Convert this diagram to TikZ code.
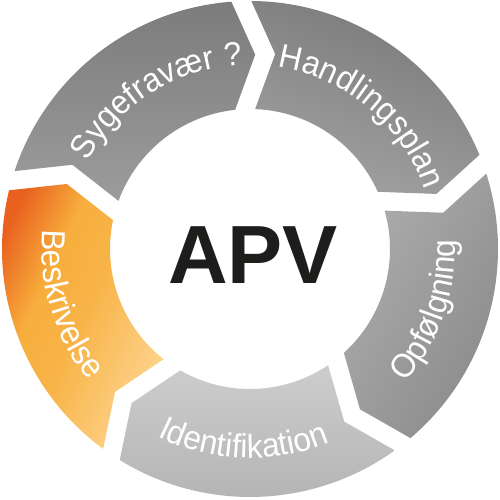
\documentclass[tikz,border=0pt]{standalone}
\usepackage{fontspec}
\usetikzlibrary{decorations.text}
\newfontfamily\labelfam[FakeStretch=0.95]{Liberation Sans}
\newfontfamily\apvfam{Liberation Sans}
\newcommand\labelfont{\labelfam\fontsize{19}{19}\selectfont}
\definecolor{apvblack}{HTML}{1D1D1B}
\definecolor{sygtop}{HTML}{7C7C7C}
\definecolor{sygbot}{HTML}{9C9C9C}
\definecolor{handtop}{HTML}{797979}
\definecolor{handbot}{HTML}{A2A2A2}
\definecolor{opftop}{HTML}{ACACAC}
\definecolor{opfbot}{HTML}{898989}
\definecolor{idtop}{HTML}{CDCDCD}
\definecolor{idbot}{HTML}{B2B2B2}
\definecolor{besktop}{HTML}{E9611F}
\definecolor{beskmid}{HTML}{F7AE3C}
\definecolor{beskbot}{HTML}{FDD48E}
\pgfdeclarehorizontalshading{beskshade}{100bp}{color(0bp)=(besktop); color(26bp)=(besktop); color(40bp)=(beskmid); color(52bp)=(beskmid!85!beskbot); color(75bp)=(beskbot); color(100bp)=(beskbot)}
\begin{document}
\begin{tikzpicture}[scale=0.2]
\tikzstyle{ringlabel}=[decorate, decoration={text along path, text align=center, text color=white}]
\fill [white] (-25,-25.1) rectangle (25,24.9);
\useasboundingbox (-25,-25.1) rectangle (25,24.9);
\shade [top color=sygtop, bottom color=sygbot] (161.69:24.8) arc (161.69:94.31:24.8) -- (88.46:19.44) -- (96.10:14) arc (96.10:159.90:14) -- (154.63:19.66) -- cycle;
\shade [top color=handtop, bottom color=handbot, shading angle=-20] (89.69:24.8) arc (89.69:22.31:24.8) -- (16.46:19.44) -- (24.10:14) arc (24.10:87.90:14) -- (82.63:19.66) -- cycle;
\shade [top color=opftop, bottom color=opfbot, shading angle=60] (17.69:24.8) arc (17.69:-49.69:24.8) -- (-55.54:19.44) -- (-47.90:14) arc (-47.90:15.90:14) -- (10.63:19.66) -- cycle;
\shade [top color=idtop, bottom color=idbot] (-54.31:24.8) arc (-54.31:-121.69:24.8) -- (-127.54:19.44) -- (-119.90:14) arc (-119.90:-56.10:14) -- (-61.37:19.66) -- cycle;
\shade [shading=beskshade, shading angle=-25] (233.69:24.8) arc (233.69:166.31:24.8) -- (160.46:19.44) -- (168.10:14) arc (168.10:231.90:14) -- (226.63:19.66) -- cycle;
\path [ringlabel, decoration={text={|\labelfont|Sygefravær ?}}] (157:18.4) arc (157:87:18.4);
\path [ringlabel, decoration={text={|\labelfont|Handlingsplan}}] (85:18.4) arc (85:15:18.4);
\path [ringlabel, decoration={text={|\labelfont|Opfølgning}}] (-54:20.5) arc (-54:16:20.5);
\path [ringlabel, decoration={text={|\labelfont|Identifikation}}] (-127:20.9) arc (-127:-57:20.9);
\path [ringlabel, decoration={text={|\labelfont|Beskrivelse}}] (162:20.8) arc (162:232:20.8);
\node [text=apvblack, font=\apvfam\bfseries\fontsize{47}{47}\selectfont, inner sep=0pt] (apv) at (0.3,-0.6) {APV};
\end{tikzpicture}
\end{document}
